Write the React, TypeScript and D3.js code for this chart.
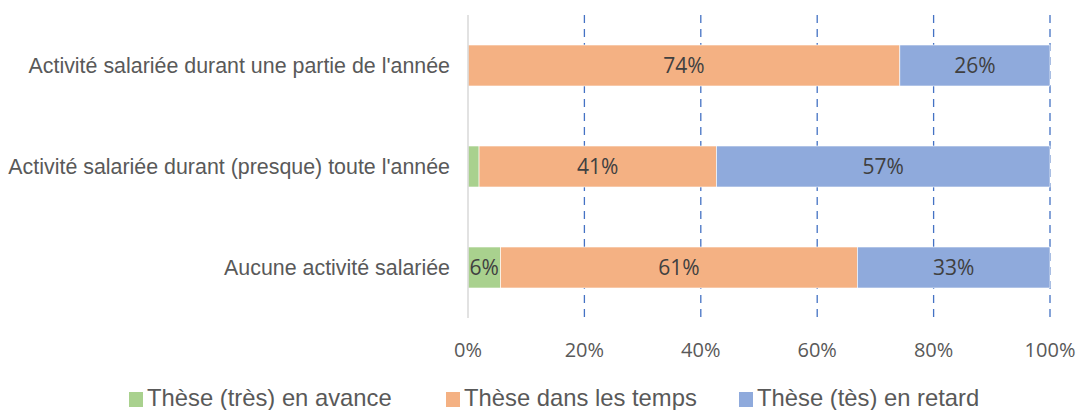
import React from "react";
import { scaleLinear, scaleBand, stack } from "d3";

const categories = [
  "Activité salariée durant une partie de l'année",
  "Activité salariée durant (presque) toute l'année",
  "Aucune activité salariée",
];
const seriesNames = [
  "Thèse (très) en avance",
  "Thèse dans les temps",
  "Thèse (tès) en retard",
];
const avance = [0, 1.9, 5.6];
const temps = [74.2, 40.8, 61.3];
const retard = [25.8, 57.3, 33.1];
const ticks = [0, 20, 40, 60, 80, 100];
const colors = ["#A9D18E", "#F4B183", "#8FAADC"];

const width = 1079;
const height = 410;
const left = 468;
const right = 1050;
const top = 15;
const bottom = 318;

const App = () => {
  const rows = categories.map((c, i) => ({
    cat: c,
    s0: avance[i],
    s1: temps[i],
    s2: retard[i],
  }));
  const stacked = stack<any>().keys(["s0", "s1", "s2"])(rows);

  const x = scaleLinear().domain([0, 100]).range([left, right]);
  const y = scaleBand()
    .domain(categories)
    .range([top, bottom])
    .paddingInner(0.594)
    .paddingOuter(0.297);

  const legendX = [129, 446, 739];

  return (
    <svg
      width={width}
      height={height}
      style={{ position: "absolute", left: 0, top: 0 }}
      fontFamily="'Liberation Sans', Arial, sans-serif"
    >
      <rect width={width} height={height} fill="#fff" />
      {/* gridlines */}
      {ticks.slice(1).map((t) => (
        <line
          key={t}
          x1={x(t)}
          x2={x(t)}
          y1={top}
          y2={bottom}
          stroke="#4472C4"
          strokeWidth={1.3}
          strokeDasharray="8,6"
        />
      ))}
      {/* bars */}
      {stacked.map((layer, si) =>
        layer.map((d, i) => {
          const x0 = x(d[0]);
          const x1 = x(d[1]);
          const w = x1 - x0;
          if (w <= 0) return null;
          const yy = y(categories[i])!;
          const v = d[1] - d[0];
          return (
            <g key={si + "-" + i}>
              <rect
                x={x0}
                y={yy}
                width={w}
                height={y.bandwidth()}
                fill={colors[si]}
                stroke="#fff"
                strokeWidth={0.6}
              />
              {v >= 3 && (
                <text
                  x={(x0 + x1) / 2}
                  y={yy + y.bandwidth() / 2}
                  dy="0.36em"
                  textAnchor="middle"
                  fontSize={21}
                  fontFamily="'Open Sans', sans-serif"
                  fill="#404040"
                >
                  {Math.round(v)}%
                </text>
              )}
            </g>
          );
        })
      )}
      {/* axis line */}
      <line x1={left} x2={left} y1={top} y2={bottom} stroke="#D9D9D9" strokeWidth={1.5} />
      {/* category labels */}
      {categories.map((c) => (
        <text
          key={c}
          x={left - 18}
          y={y(c)! + y.bandwidth() / 2}
          dy="0.35em"
          textAnchor="end"
          fontSize={21.4}
          fill="#595959"
        >
          {c}
        </text>
      ))}
      {/* tick labels */}
      {ticks.map((t) => (
        <text
          key={t}
          x={x(t)}
          y={350}
          dy="0.36em"
          textAnchor="middle"
          fontSize={20}
          fontFamily="'Open Sans', sans-serif"
          fill="#595959"
        >
          {t}%
        </text>
      ))}
      {/* legend */}
      {seriesNames.map((s, i) => (
        <g key={s}>
          <rect x={legendX[i]} y={392} width={14} height={15} fill={colors[i]} />
          <text x={legendX[i] + 18} y={406} fontSize={23.8} fill="#595959">
            {s}
          </text>
        </g>
      ))}
    </svg>
  );
};

export default App;
